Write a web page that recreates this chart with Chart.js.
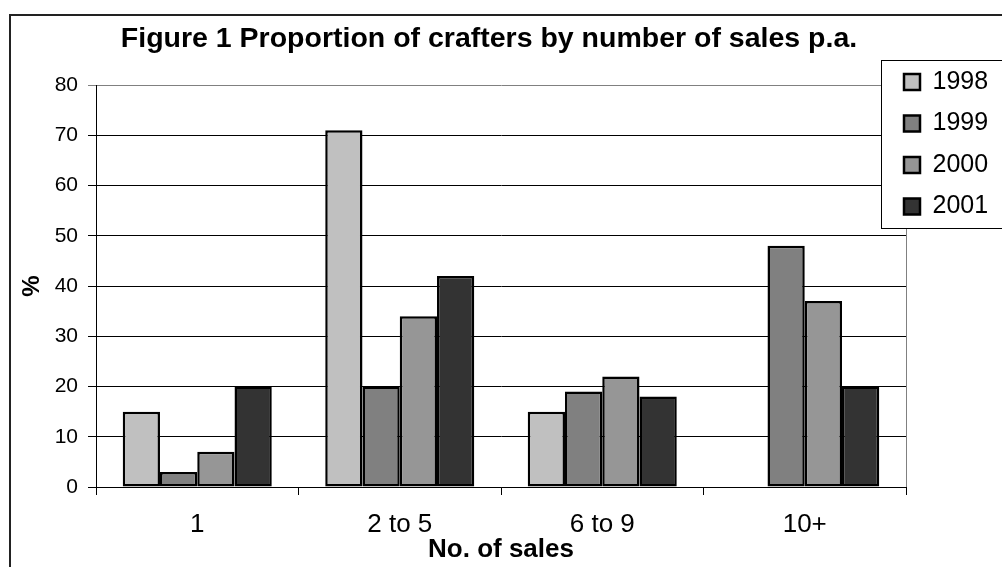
<!DOCTYPE html>
<html>
<head>
<meta charset="utf-8">
<title>Proportion of crafters by number of sales p.a.</title>
<script src="https://cdn.jsdelivr.net/npm/chart.js@4/dist/chart.umd.min.js"></script>
<style>
  html, body { margin: 0; padding: 0; background: #fff; }
  canvas { display: block; }
</style>
</head>
<body>
<canvas id="chart" width="1002" height="567"></canvas>
<script>
// Sales bands and yearly shares (%)
const categories = ['1', '2 to 5', '6 to 9', '10+'];
const seriesNames = ['1998', '1999', '2000', '2001'];
const values1998 = [15, 71, 15, null];
const values1999 = [3, 20, 19, 48];
const values2000 = [7, 34, 22, 37];
const values2001 = [20, 42, 18, 20];
const yMin = 0;
const yMax = 80;
const yStep = 10;

const seriesValues = [values1998, values1999, values2000, values2001];
const seriesColors = ['#C0C0C0', '#808080', '#969696', '#333333'];
const FONT = "'Liberation Sans', Arial, Helvetica, sans-serif";

// White page with the outer frame line
const framePlugin = {
  id: 'frame',
  beforeDraw(chart) {
    const ctx = chart.ctx;
    ctx.save();
    ctx.fillStyle = '#fff';
    ctx.fillRect(0, 0, chart.width, chart.height);
    ctx.strokeStyle = '#222';
    ctx.lineWidth = 2;
    ctx.strokeRect(10, 15, chart.width + 20, chart.height + 20);
    ctx.restore();
  }
};

// Boxed legend sitting over the top-right corner of the plot
const legendBoxPlugin = {
  id: 'legendBox',
  afterLayout(chart) {
    const lg = chart.legend;
    if (!lg) return;
    lg.left = 887.5;
    lg.top = 53;
    lg.right = chart.width;
    lg.bottom = 250;
    lg.width = lg.right - lg.left;
    lg.height = lg.bottom - lg.top;
    if (!lg._boxed) {
      const baseDraw = lg.draw;
      lg.draw = function () {
        const ctx = this.ctx;
        ctx.save();
        ctx.fillStyle = '#fff';
        ctx.fillRect(881.5, 60.5, 140, 168);
        ctx.strokeStyle = '#000';
        ctx.lineWidth = 1;
        ctx.strokeRect(881.5, 60.5, 140, 168);
        ctx.restore();
        return baseDraw.apply(this, arguments);
      };
      lg._boxed = true;
    }
  }
};

const datasets = seriesNames.map((name, i) => ({
  label: name,
  data: seriesValues[i],
  backgroundColor: seriesColors[i],
  borderColor: '#000',
  borderWidth: 2.5,
  borderSkipped: false,
  categoryPercentage: 0.736,
  barPercentage: 1.0
}));

new Chart(document.getElementById('chart'), {
  type: 'bar',
  data: { labels: categories, datasets },
  plugins: [framePlugin, legendBoxPlugin],
  options: {
    responsive: false,
    animation: false,
    devicePixelRatio: 1,
    layout: { padding: { left: 0, right: 24, top: 0, bottom: 0 } },
    plugins: {
      title: {
        display: true,
        text: 'Figure 1 Proportion of crafters by number of sales p.a.',
        color: '#000',
        font: { family: FONT, size: 28.5, weight: 'bold' },
        padding: { top: 22, bottom: 28.8 }
      },
      legend: {
        display: true,
        position: 'right',
        align: 'start',
        maxWidth: 72,
        labels: {
          color: '#000',
          font: { family: FONT, size: 25 },
          boxWidth: 16,
          boxHeight: 16,
          padding: 16.5
        }
      },
      tooltip: { enabled: false }
    },
    scales: {
      x: {
        grid: {
          display: true,
          drawOnChartArea: false,
          drawTicks: true,
          tickLength: 8,
          color: '#000',
          lineWidth: 1,
          offset: true
        },
        border: { display: true, color: '#000', width: 1 },
        ticks: {
          color: '#000',
          font: { family: FONT, size: 26 },
          padding: 14.4,
          maxRotation: 0
        },
        title: {
          display: true,
          text: 'No. of sales',
          color: '#000',
          font: { family: FONT, size: 26, weight: 'bold' },
          padding: { top: 0, bottom: 1.5 }
        },
        afterFit(scale) { scale.height = 80; }
      },
      y: {
        min: yMin,
        max: yMax,
        ticks: {
          stepSize: yStep,
          color: '#000',
          font: { family: FONT, size: 21 },
          padding: 10
        },
        grid: {
          color: (ctx) => (ctx.tick && ctx.tick.value === yMax ? '#808080' : '#000'),
          lineWidth: 1,
          drawTicks: true,
          tickLength: 8
        },
        border: { display: true, color: '#000', width: 1 },
        title: {
          display: true,
          text: '%',
          color: '#000',
          font: { family: FONT, size: 24, weight: 'bold' },
          padding: { top: 17.6, bottom: 0 }
        },
        afterFit(scale) { scale.width = 96; }
      },
      yRight: {
        type: 'linear',
        position: 'right',
        min: yMin,
        max: yMax,
        ticks: { display: false },
        grid: { display: false },
        border: { display: true, color: '#808080', width: 1, z: -1 },
        afterFit(scale) { scale.width = 0; }
      }
    }
  }
});
</script>
</body>
</html>
